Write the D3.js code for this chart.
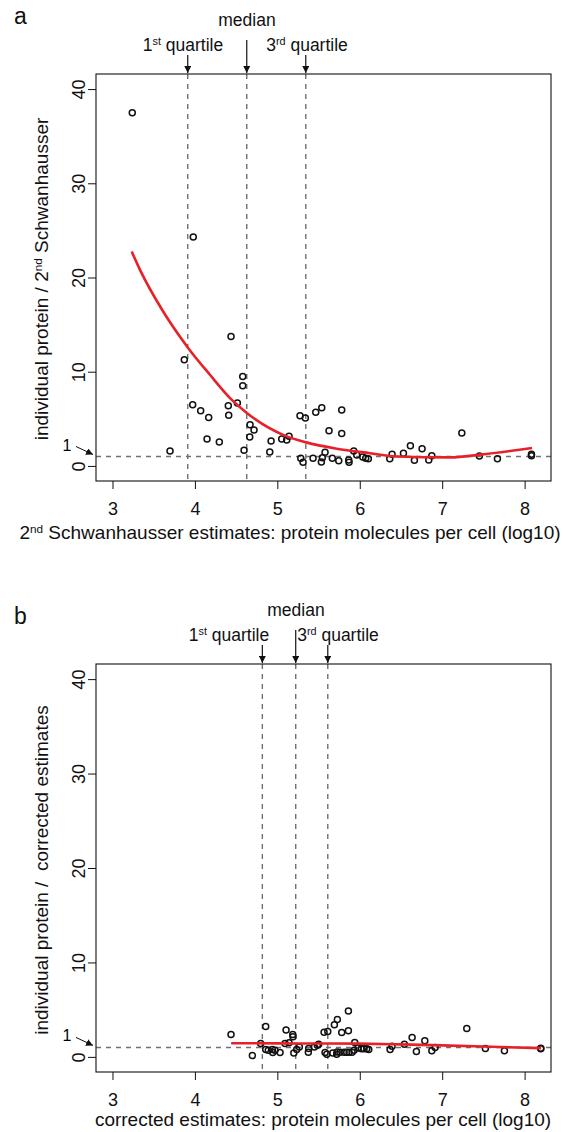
<!DOCTYPE html>
<html>
<head>
<meta charset="utf-8">
<script src="https://cdn.jsdelivr.net/npm/d3@7"></script>
<style>
body { margin: 0; background: #fff; }
svg { font-family: "Liberation Sans", Arial, Helvetica, sans-serif; }
</style>
</head>
<body>
<div id="chart"></div>
<script>
// panel a: 2nd Schwanhausser estimates
var aX = [3.24,3.98,4.438,3.871,4.58,4.58,3.973,4.07,4.167,4.405,4.515,4.41,4.147,4.296,3.698,4.596,4.669,4.717,4.665,4.924,4.908,5.053,5.114,5.142,5.275,5.34,5.284,5.312,5.433,5.466,5.539,5.579,5.546,5.534,5.627,5.667,5.745,5.781,5.781,5.866,5.87,5.927,5.963,6.036,6.072,6.104,6.364,6.392,6.53,6.614,6.663,6.756,6.837,6.874,7.238,7.451,7.67,8.083,8.083];
var aY = [37.5,24.3,13.74,11.27,9.5,8.5,6.5,5.86,5.15,6.39,6.68,5.37,2.86,2.54,1.59,1.66,4.38,3.82,3.07,2.65,1.48,2.86,2.76,3.14,5.33,5.09,0.81,0.38,0.81,5.69,6.18,1.44,0.88,0.42,3.74,0.81,0.56,5.94,3.43,0.64,0.38,1.59,1.17,0.96,0.81,0.77,0.77,1.23,1.34,2.15,0.6,1.83,0.64,1.09,3.5,1.06,0.77,1.23,1.09];
var aFitX = [3.233,3.334,3.6,3.92,4.18,4.426,4.63,5.07,5.35,5.72,6.125,6.45,7.1,7.46,8.09];
var aFitY = [22.76,20.81,16.6,12.5,9.7,7.2,5.62,3.3,2.5,1.83,1.35,1.0,0.91,1.2,1.9];
var aQuart = [3.913, 4.629, 5.345];

// panel b: corrected estimates
var bX = [4.438,4.697,4.859,4.798,4.859,4.89,4.94,4.944,4.972,5.033,5.106,5.093,5.142,5.187,5.19,5.2,5.235,5.267,5.376,5.38,5.449,5.485,5.502,5.567,5.612,5.579,5.6,5.672,5.72,5.725,5.692,5.728,5.781,5.862,5.862,5.761,5.81,5.842,5.87,5.907,5.931,5.939,5.979,6.02,6.052,6.085,6.109,6.368,6.392,6.541,6.635,6.687,6.789,6.874,6.914,7.298,7.524,7.755,8.196,8.196];
var bY = [2.37,0.15,3.22,1.42,0.78,0.71,0.78,0.47,0.71,0.47,2.86,1.42,1.49,2.37,2.12,0.42,0.78,1.06,0.5,0.89,1.06,1.24,1.35,2.62,2.69,0.47,0.29,0.42,0.29,0.53,3.39,3.96,2.58,4.85,2.76,0.5,0.5,0.5,0.5,0.5,0.71,1.53,0.95,0.85,0.85,0.85,0.78,0.78,1.13,1.35,2.06,0.57,1.7,0.64,1.0,3.0,0.89,0.64,0.92,0.85];
var bFitX = [4.44,5.0,5.5,6.0,6.5,7.0,7.5,8.2];
var bFitY = [1.45,1.43,1.42,1.40,1.32,1.22,1.1,0.93];
var bQuart = [4.818, 5.223, 5.612];

var xTicks = [3,4,5,6,7,8];
var yTicks = [0,10,20,30,40];

var svg = d3.select("#chart").append("svg").attr("width", 567).attr("height", 1132);

var defs = svg.append("defs");
defs.append("marker").attr("id","arr").attr("viewBox","0 0 10 10").attr("refX",10).attr("refY",5)
  .attr("markerWidth",7).attr("markerHeight",7).attr("markerUnits","userSpaceOnUse").attr("orient","auto")
  .append("path").attr("d","M0,0L10,5L0,10Z").attr("fill","#111");

function sup(t, base, s, rest) {
  t.append("tspan").text(base);
  t.append("tspan").attr("font-size","0.62em").attr("dy","-0.55em").text(s);
  t.append("tspan").attr("dy","0.34em").text(rest);
}

function panel(o) {
  var w = 455, h = o.h;
  var g = svg.append("g").attr("transform","translate(96," + o.top + ")");
  var x = d3.scaleLinear().domain([2.8, 8.32]).range([0, w]);
  var y = d3.scaleLinear().domain([-1.6, 41.6]).range([h, 0]);

  // reference lines
  g.selectAll(".q").data(o.quart).enter().append("line")
    .attr("x1", function(d){return x(d);}).attr("x2", function(d){return x(d);})
    .attr("y1", 0).attr("y2", h)
    .style("stroke","#707070").style("stroke-width",1.4).style("stroke-dasharray","5,5");
  g.append("line").attr("x1",0).attr("x2",w).attr("y1",y(1)).attr("y2",y(1))
    .style("stroke","#707070").style("stroke-width",1.4).style("stroke-dasharray","5,5");

  // points
  g.selectAll(".pt").data(o.xs).enter().append("circle")
    .attr("cx", function(d){return x(d);})
    .attr("cy", function(d,i){return y(o.ys[i]);})
    .attr("r", 3).style("fill","none").style("stroke","#111").style("stroke-width",1.5);

  // fit line
  var line = d3.line().x(function(d){return x(d[0]);}).y(function(d){return y(d[1]);}).curve(d3.curveMonotoneX);
  g.append("path").datum(o.fx.map(function(v,i){return [v, o.fy[i]];})).attr("d", line)
    .style("fill","none").style("stroke","#e8202a").style("stroke-width",2.6);

  // box
  g.append("rect").attr("width",w).attr("height",h).style("fill","none").style("stroke","#111").style("stroke-width",1.1);

  // axes
  var xa = g.append("g").attr("transform","translate(0," + h + ")")
    .call(d3.axisBottom(x).tickValues(xTicks).tickSize(8).tickPadding(13).tickFormat(d3.format("d")));
  xa.select(".domain").remove();
  xa.selectAll("line").style("stroke","#111");
  xa.selectAll("text").style("font-size","18px").style("fill","#111").attr("font-family",null);

  var ya = g.append("g").call(d3.axisLeft(y).tickValues(yTicks).tickSize(8).tickFormat(d3.format("d")));
  ya.select(".domain").remove();
  ya.selectAll("line").style("stroke","#111");
  ya.selectAll("text").attr("x",null).attr("dy",null)
    .attr("transform","translate(-11,0) rotate(-90)").style("text-anchor","middle")
    .style("font-size","18px").style("fill","#111").attr("font-family",null);

  // "1" marker with arrow
  g.append("text").attr("x",-29).attr("y", y(1) - 6).style("font-size","16px").style("text-anchor","middle").text("1");
  g.append("line").attr("x1",-20).attr("y1",y(1) - 10).attr("x2",-3).attr("y2",y(1) - 2)
    .style("stroke","#111").style("stroke-width",1).attr("marker-end","url(#arr)");

  // x title
  var xt = g.append("text").attr("x", o.xtx).attr("y", h + o.xty).style("font-size","19px").style("text-anchor","middle").style("fill","#111");
  o.xtitle(xt);

  // y title
  var yt = g.append("text").attr("transform","translate(-48," + o.ytc + ") rotate(-90)")
    .style("font-size","19px").style("text-anchor","middle").style("fill","#111");
  o.ytitle(yt);

  // quartile annotations
  var labs = [
    {x: o.quart[0], lx: o.lab[0], kind: "q1"},
    {x: o.quart[1], lx: o.lab[1], kind: "med"},
    {x: o.quart[2], lx: o.lab[2], kind: "q3"}
  ];
  labs.forEach(function(l){
    var top = l.kind == "med" ? -34 : -19;
    g.append("line").attr("x1",x(l.x)).attr("x2",x(l.x)).attr("y1",top).attr("y2",-1)
      .style("stroke","#111").style("stroke-width",1.2).attr("marker-end","url(#arr)");
    var t = g.append("text").attr("x", l.lx).attr("y", l.kind == "med" ? -48 : -23)
      .style("font-size","17.5px").style("text-anchor","middle").style("fill","#111");
    if (l.kind == "med") t.text("median");
    else if (l.kind == "q1") sup(t, "1", "st", " quartile");
    else sup(t, "3", "rd", " quartile");
  });

  svg.append("text").attr("x",14).attr("y",o.top + o.letterDy).style("font-size","23px").style("fill","#111").text(o.letter);
}

panel({
  top: 74, h: 407, xs: aX, ys: aY, fx: aFitX, fy: aFitY, quart: aQuart,
  lab: [183 - 96, 247 - 96, 307 - 96], letter: "a", letterDy: -50, xtx: 290 - 96, xty: 58, ytc: 279 - 74,
  xtitle: function(t){ sup(t, "2", "nd", " Schwanhausser estimates: protein molecules per cell (log10)"); },
  ytitle: function(t){ sup(t, "individual protein / 2", "nd", " Schwanhausser"); }
});

panel({
  top: 664, h: 408, xs: bX, ys: bY, fx: bFitX, fy: bFitY, quart: bQuart,
  lab: [229 - 96, 296 - 96, 338 - 96], letter: "b", letterDy: -40, xtx: 323 - 96, xty: 54, ytc: 870 - 664,
  xtitle: function(t){ t.text("corrected estimates: protein molecules per cell (log10)"); },
  ytitle: function(t){ t.text("individual protein /  corrected estimates").attr("xml:space","preserve"); }
});
</script>
</body>
</html>
